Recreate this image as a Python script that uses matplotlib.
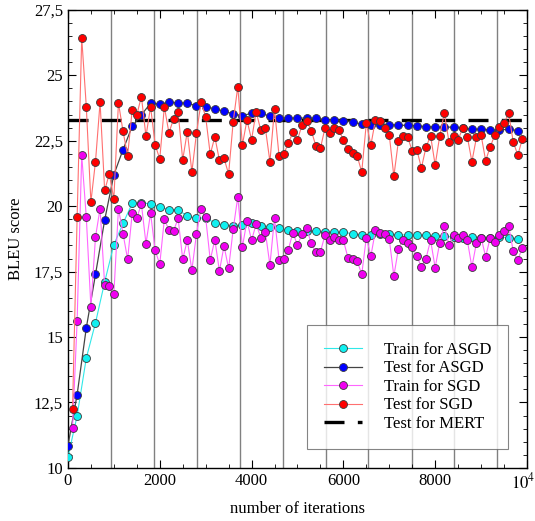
import matplotlib
matplotlib.use("Agg")
import matplotlib.pyplot as plt
import matplotlib.transforms as mtransforms
from matplotlib.ticker import MultipleLocator

plt.rcParams["font.family"] = ["Liberation Serif", "DejaVu Serif"]
plt.rcParams["mathtext.fontset"] = "stix"

# iteration grids
asgd_iters = list(range(0, 10000, 200))
sgd_iters = list(range(100, 10000, 100))

# Test for ASGD (blue)
test_asgd = [10.85, 12.80, 15.35, 17.39, 19.47,
             21.20, 22.16, 23.05, 23.49, 23.93,
             23.90, 23.97, 23.95, 23.93, 23.84,
             23.80, 23.72, 23.63, 23.52, 23.46,
             23.55, 23.55, 23.44, 23.37, 23.36,
             23.37, 23.36, 23.36, 23.31, 23.31,
             23.27, 23.22, 23.13, 23.12, 23.12,
             23.12, 23.09, 23.09, 23.07, 23.04,
             23.02, 23.02, 23.02, 22.98, 22.94,
             22.94, 22.91, 22.91, 22.94, 22.89]

# Train for ASGD (cyan)
train_asgd = [10.41, 11.99, 14.20, 15.54, 17.10,
              18.53, 19.34, 20.11, 20.11, 20.10,
              19.97, 19.87, 19.85, 19.63, 19.53,
              19.56, 19.35, 19.28, 19.25, 19.27,
              19.34, 19.25, 19.22, 19.16, 19.09,
              19.04, 19.05, 19.05, 19.00, 19.00,
              19.00, 18.95, 18.90, 18.90, 18.93,
              18.93, 18.90, 18.90, 18.90, 18.88,
              18.85, 18.85, 18.82, 18.80, 18.82,
              18.80, 18.80, 18.82, 18.80, 18.75]

# Train for SGD (magenta)
train_sgd = [11.52, 15.61, 21.95, 19.57, 16.14, 18.82, 19.91, 16.97, 16.95,
             16.63, 19.91, 18.95, 17.97, 19.73, 19.55, 20.08, 18.57, 19.73, 18.31,
             17.78, 19.50, 19.09, 19.05, 19.53, 17.97, 18.70, 17.55, 18.95, 19.91,
             19.57, 17.94, 18.72, 17.52, 18.48, 17.62, 19.12, 20.36, 18.44, 19.44,
             18.70, 19.31, 18.80, 19.02, 17.75, 19.55, 17.94, 18.00, 18.33, 18.99,
             18.51, 18.93, 19.15, 18.58, 18.25, 18.25, 18.90, 18.70, 18.82, 18.70,
             18.70, 18.03, 17.97, 17.92, 17.39, 18.80, 18.10, 19.08, 18.99, 18.93,
             18.74, 17.33, 18.38, 18.70, 18.61, 18.44, 18.10, 17.67, 18.00, 18.70,
             17.65, 18.61, 19.25, 18.51, 18.90, 18.80, 18.90, 18.70, 17.67, 18.61,
             18.80, 18.07, 18.80, 18.63, 18.90, 19.05, 19.25, 18.29, 17.94, 18.42]

# Test for SGD (red)
test_sgd = [12.25, 19.57, 26.44, 23.80, 20.16, 21.70, 23.97, 20.60, 21.23,
            20.28, 23.95, 22.86, 21.93, 23.68, 23.49, 24.19, 22.67, 23.80, 22.35,
            21.80, 23.80, 22.80, 23.33, 23.59, 21.77, 22.85, 21.31, 22.79, 23.97,
            23.42, 21.98, 22.65, 21.75, 21.83, 21.23, 23.23, 24.57, 22.34, 23.29,
            22.54, 23.61, 22.91, 22.99, 21.70, 23.72, 21.90, 21.99, 22.40, 22.82,
            22.53, 23.11, 23.27, 22.89, 22.31, 22.21, 22.99, 22.79, 22.99, 22.92,
            22.53, 22.18, 22.02, 21.93, 21.30, 23.17, 22.34, 23.31, 23.25, 22.99,
            22.72, 21.14, 22.50, 22.69, 22.63, 22.12, 22.16, 21.46, 22.25, 22.69,
            21.57, 22.69, 23.56, 22.46, 22.69, 22.54, 22.98, 22.66, 21.70, 22.63,
            22.72, 21.74, 22.27, 22.72, 23.02, 23.17, 23.55, 22.46, 21.95, 22.57]

mert_score = 23.3
epoch_ends = [937, 1874, 2810, 3747, 4684, 5621, 6536, 7495, 8410, 9346]

x_ticks = [0, 2000, 4000, 6000, 8000, 10000]
x_labels = ["0", "2000", "4000", "6000", "8000", "$10^4$"]
y_ticks = [10, 12.5, 15, 17.5, 20, 22.5, 25, 27.5]
y_labels = ["10", "12,5", "15", "17,5", "20", "22,5", "25", "27,5"]

fig = plt.figure(figsize=(5.35, 5.21), dpi=100)
ax = fig.add_axes([0.127, 0.102, 0.858, 0.879])

for x in epoch_ends:
    ax.axvline(x, color="0.5", linewidth=1.0, zorder=1)

mk = dict(marker="o", markersize=5.7, markeredgecolor="#3a3a3a", markeredgewidth=0.6)
ax.plot(asgd_iters, train_asgd, color="#30e8e8", linewidth=0.8,
        markerfacecolor="#10f0f0", label="Train for ASGD", zorder=3, **mk)
ax.plot(asgd_iters, test_asgd, color="#444444", linewidth=0.9,
        markerfacecolor="#0000ff", label="Test for ASGD", zorder=3, **mk)
ax.plot(sgd_iters, train_sgd, color="#ff66ff", linewidth=0.8,
        markerfacecolor="#f000f0", label="Train for SGD", zorder=4, **mk)
ax.plot(sgd_iters, test_sgd, color="#ff7070", linewidth=0.8,
        markerfacecolor="#ff0000", label="Test for SGD", zorder=4, **mk)
ax.axhline(mert_score, color="black", linewidth=2.4, dashes=(6, 4),
           label="Test for MERT", zorder=2)

ax.set_xlim(0, 10000)
ax.set_ylim(10, 27.5)
ax.set_xticks(x_ticks)
ax.set_xticklabels(x_labels)
ax.set_yticks(y_ticks)
ax.set_yticklabels(y_labels)
ax.xaxis.set_minor_locator(MultipleLocator(500))
ax.yaxis.set_minor_locator(MultipleLocator(0.5))
ax.tick_params(which="both", direction="in", top=True, right=True, labelsize=12)
ax.tick_params(which="major", length=6, width=0.8)
ax.tick_params(which="minor", length=3, width=0.6)
for s in ax.spines.values():
    s.set_linewidth(1.0)

# keep the 10^4 label inside the figure
last = ax.get_xticklabels()[-1]
last.set_horizontalalignment("right")
last.set_transform(last.get_transform() + mtransforms.ScaledTranslation(6 / 72, 0, fig.dpi_scale_trans))

ax.set_xlabel("number of iterations", fontsize=12, labelpad=6)
ax.set_ylabel("BLEU score", fontsize=12, labelpad=7)

leg = ax.legend(loc="lower right", bbox_to_anchor=(0.958, 0.042), fontsize=12,
                frameon=True, fancybox=False, edgecolor="0.4", handlelength=2.3,
                borderpad=1.0, labelspacing=0.15, handletextpad=1.3, borderaxespad=0)
leg.get_frame().set_linewidth(0.8)

fig.savefig("out.png", dpi=100)
